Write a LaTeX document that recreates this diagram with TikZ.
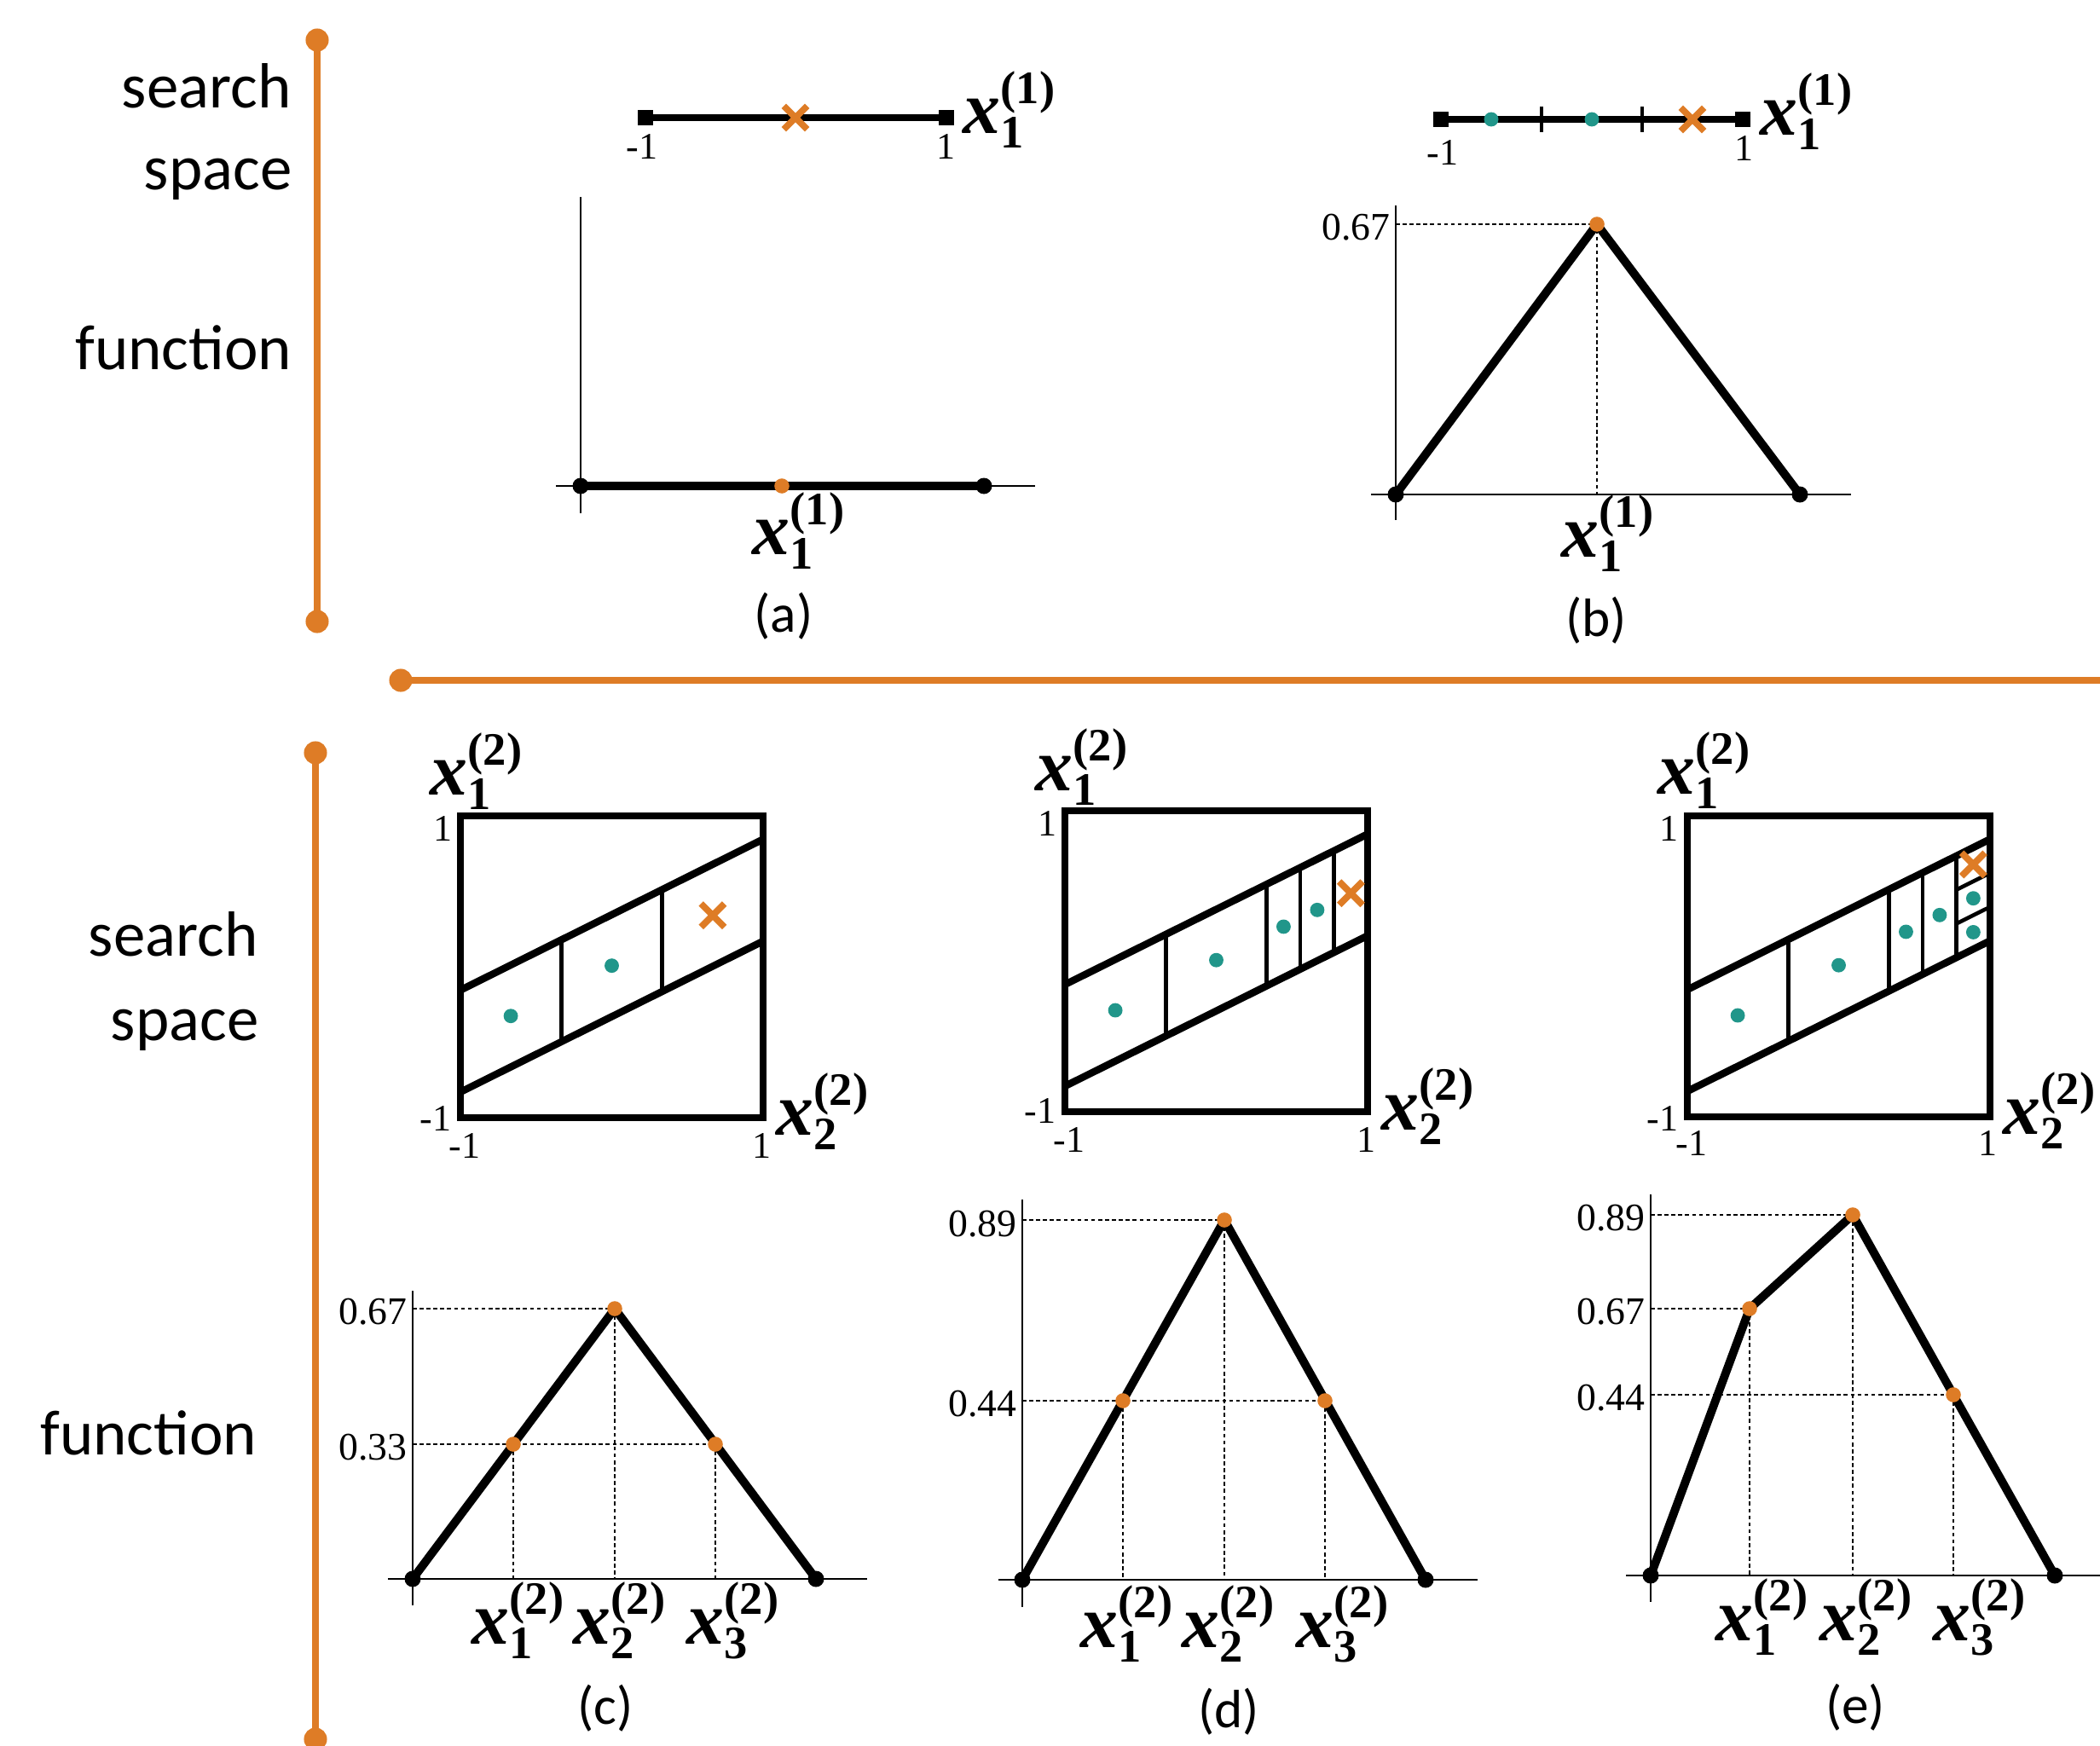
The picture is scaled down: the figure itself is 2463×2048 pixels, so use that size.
\documentclass[tikz,border=0pt]{standalone}
\usepackage{fontspec}
\setmainfont{Liberation Serif}
\newfontfamily\sansf{Carlito}
\usetikzlibrary{shapes.misc}
\definecolor{myorange}{RGB}{222,124,38}
\definecolor{myteal}{RGB}{33,150,138}
\newcommand\xlab[2]{{\fontsize{25}{25}\selectfont\bfseries\itshape x}{\fontsize{15.5}{15.5}\selectfont\bfseries\setbox0\hbox{(#2)}\setbox2\hbox{#1}\raisebox{9.7pt}{\copy0}\kern-\wd0\raisebox{-5pt}{\copy2}\kern-\wd2\kern\wd0}}
\begin{document}
\begin{tikzpicture}[x=0.01cm, y=-0.01cm,
 sepline/.style={myorange, line width=2.4pt},
 sepdot/.style={circle, fill=myorange, inner sep=0pt, minimum size=7.7pt},
 thickl/.style={line width=2.8pt, line join=round},
 axisl/.style={line width=0.7pt},
 guide/.style={line width=0.5pt, dash pattern=on 1.3pt off 1pt},
 bdot/.style={circle, fill=black, inner sep=0pt, minimum size=5.4pt},
 odot/.style={circle, fill=myorange, inner sep=0pt, minimum size=5pt},
 tdot/.style={circle, fill=myteal, inner sep=0pt, minimum size=4.8pt},
 xmk/.style={cross out, draw=myorange, line width=2.2pt, inner sep=0pt, minimum size=5.6pt},
 sqr/.style={rectangle, fill=black, inner sep=0pt, minimum size=5.1pt},
 seg/.style={line width=2.3pt},
 boxframe/.style={line width=2.4pt},
 band/.style={line width=2.4pt},
 divl/.style={line width=1.3pt},
 tickm/.style={line width=1.1pt},
 sanslbl/.style={font=\sansf\fontsize{21.3}{25}\selectfont, inner sep=0pt, anchor=base east},
 captxt/.style={font=\sansf\fontsize{18}{21}\selectfont, inner sep=0pt},
 num/.style={font=\fontsize{13}{15}\selectfont, inner sep=0pt},
 xl/.style={inner sep=0pt, anchor=base west}]
\useasboundingbox (0,0) rectangle (2463,2048);

% ---------- orange separators ----------
\coordinate (s1t) at (372,47); \coordinate (s1b) at (372,729);
\draw[sepline] (s1t) -- (s1b);
\node[sepdot] (d1t) at (s1t) {}; \node[sepdot] (d1b) at (s1b) {};
\coordinate (s2l) at (470,798); \coordinate (s2r) at (2480,798);
\draw[sepline] (s2l) -- (s2r);
\node[sepdot] (d2l) at (s2l) {};
\coordinate (s3t) at (370,883); \coordinate (s3b) at (370,2040);
\draw[sepline] (s3t) -- (s3b);
\node[sepdot] (d3t) at (s3t) {}; \node[sepdot] (d3b) at (s3b) {};

% ---------- row labels ----------
\node[sanslbl] (r1a) at (342,126) {search};
\node[sanslbl] (r1b) at (343,222) {space};
\node[sanslbl] (r1c) at (343,433) {function};
\node[sanslbl] (r2a) at (303,1121) {search};
\node[sanslbl] (r2b) at (304,1220) {space};
\node[sanslbl] (r2c) at (302,1706) {function};

% ---------- (a) ----------
\coordinate (a1L) at (757,138); \coordinate (a1R) at (1110,138);
\draw[seg] (a1L) -- (a1R);
\node[sqr] (a1sl) at (a1L) {}; \node[sqr] (a1sr) at (a1R) {};
\node[xmk] (a1x) at (933,138) {};
\node[num, font=\fontsize{12.5}{15}\selectfont] (a1m) at (753,172) {-1};
\node[num, font=\fontsize{12.5}{15}\selectfont] (a1p) at (1109,172) {1};
\node[xl] (a1lab) at (1129,156) {\xlab{1}{1}};

\coordinate (aVt) at (681,231); \coordinate (aVb) at (681,602);
\coordinate (aHl) at (652,570); \coordinate (aHr) at (1214,570);
\draw[axisl] (aVt) -- (aVb); \draw[axisl] (aHl) -- (aHr);
\coordinate (a0) at (681,570); \coordinate (a1) at (917,570); \coordinate (a2) at (1154,570);
\draw[thickl] (a0) -- (a1) -- (a2);
\node[bdot] (a0d) at (a0) {}; \node[odot] (a1d) at (a1) {}; \node[bdot] (a2d) at (a2) {};
\node[xl] (aLab) at (882,650) {\xlab{1}{1}};
\node[captxt] (capa) at (919,723) {(a)};

% ---------- (b) ----------
\coordinate (b1L) at (1690,140); \coordinate (b1R) at (2044,140);
\draw[seg] (b1L) -- (b1R);
\coordinate (bt1u) at (1808,125); \coordinate (bt1d) at (1808,155);
\coordinate (bt2u) at (1926,125); \coordinate (bt2d) at (1926,155);
\draw[tickm] (bt1u) -- (bt1d); \draw[tickm] (bt2u) -- (bt2d);
\node[sqr] (b1sl) at (b1L) {}; \node[sqr] (b1sr) at (b1R) {};
\node[tdot] (b1t1) at (1749,140) {}; \node[tdot] (b1t2) at (1867,140) {};
\node[xmk] (b1x) at (1985,140) {};
\node[num, font=\fontsize{12.5}{15}\selectfont] (b1m) at (1692,179) {-1};
\node[num, font=\fontsize{12.5}{15}\selectfont] (b1p) at (2045,174) {1};
\node[xl] (b1lab) at (2064,158) {\xlab{1}{1}};

\coordinate (bVt) at (1637,241); \coordinate (bVb) at (1637,610);
\coordinate (bHl) at (1608,580); \coordinate (bHr) at (2171,580);
\coordinate (b0) at (1637,580); \coordinate (b1) at (1873,263); \coordinate (b2) at (2111,580);
\coordinate (by1) at (1637,263); \coordinate (bf1) at (1873,580);
\draw[guide] (by1) -- (b1) -- (bf1);
\draw[axisl] (bVt) -- (bVb); \draw[axisl] (bHl) -- (bHr);
\draw[thickl] (b0) -- (b1) -- (b2);
\node[bdot] (b0d) at (b0) {}; \node[odot] (b1d) at (b1) {}; \node[bdot] (b2d) at (b2) {};
\node[num, anchor=east] (b67) at (1631,267) {0.67};
\node[xl] (bLab) at (1831,653) {\xlab{1}{1}};
\node[captxt] (capb) at (1872,728) {(b)};

% ---------- search-space boxes ----------
% (c)
\begin{scope}[shift={(717.5,1134)}, x=1.775cm, y=1.77cm]
 \coordinate (cBL) at (-1,-1); \coordinate (cTR) at (1,1);
 \draw[boxframe] (cBL) rectangle (cTR);
 \coordinate (cu0) at (-1,-0.155); \coordinate (cu1) at (1,0.845);
 \coordinate (cl0) at (-1,-0.83); \coordinate (cl1) at (1,0.17);
 \draw[band] (cu0) -- (cu1); \draw[band] (cl0) -- (cl1);
 \coordinate (cd1a) at (-0.3333,-0.4967); \coordinate (cd1b) at (-0.3333,0.1783);
 \coordinate (cd2a) at (0.3333,-0.1633); \coordinate (cd2b) at (0.3333,0.5117);
 \draw[divl] (cd1a) -- (cd1b); \draw[divl] (cd2a) -- (cd2b);
 \node[tdot] (cm1) at (-0.6667,-0.3258) {};
 \node[tdot] (cm2) at (0,0.0075) {};
 \node[xmk] (cmx) at (0.6667,0.3408) {};
\end{scope}
% (d)
\begin{scope}[shift={(1426.5,1127.5)}, x=1.775cm, y=1.765cm]
 \coordinate (dBL) at (-1,-1); \coordinate (dTR) at (1,1);
 \draw[boxframe] (dBL) rectangle (dTR);
 \coordinate (du0) at (-1,-0.155); \coordinate (du1) at (1,0.845);
 \coordinate (dl0) at (-1,-0.83); \coordinate (dl1) at (1,0.17);
 \draw[band] (du0) -- (du1); \draw[band] (dl0) -- (dl1);
 \coordinate (dd1a) at (-0.3333,-0.4967); \coordinate (dd1b) at (-0.3333,0.1783);
 \coordinate (dd2a) at (0.3333,-0.1633); \coordinate (dd2b) at (0.3333,0.5117);
 \coordinate (dd3a) at (0.5556,-0.0522); \coordinate (dd3b) at (0.5556,0.6228);
 \coordinate (dd4a) at (0.7778,0.0589); \coordinate (dd4b) at (0.7778,0.7339);
 \draw[divl] (dd1a) -- (dd1b); \draw[divl] (dd2a) -- (dd2b);
 \draw[divl] (dd3a) -- (dd3b); \draw[divl] (dd4a) -- (dd4b);
 \node[tdot] (dm1) at (-0.6667,-0.3258) {};
 \node[tdot] (dm2) at (0,0.0075) {};
 \node[tdot] (dm3) at (0.4444,0.2297) {};
 \node[tdot] (dm4) at (0.6667,0.3408) {};
 \node[xmk] (dmx) at (0.8889,0.4519) {};
\end{scope}
% (e)
\begin{scope}[shift={(2156.5,1133.5)}, x=1.775cm, y=1.765cm]
 \coordinate (eBL) at (-1,-1); \coordinate (eTR) at (1,1);
 \draw[boxframe] (eBL) rectangle (eTR);
 \coordinate (eu0) at (-1,-0.155); \coordinate (eu1) at (1,0.845);
 \coordinate (el0) at (-1,-0.83); \coordinate (el1) at (1,0.17);
 \draw[band] (eu0) -- (eu1); \draw[band] (el0) -- (el1);
 \coordinate (ed1a) at (-0.3333,-0.4967); \coordinate (ed1b) at (-0.3333,0.1783);
 \coordinate (ed2a) at (0.3333,-0.1633); \coordinate (ed2b) at (0.3333,0.5117);
 \coordinate (ed3a) at (0.5556,-0.0522); \coordinate (ed3b) at (0.5556,0.6228);
 \coordinate (ed4a) at (0.7778,0.0589); \coordinate (ed4b) at (0.7778,0.7339);
 \draw[divl] (ed1a) -- (ed1b); \draw[divl] (ed2a) -- (ed2b);
 \draw[divl] (ed3a) -- (ed3b); \draw[divl] (ed4a) -- (ed4b);
 \coordinate (eh1a) at (0.7778,0.2839); \coordinate (eh1b) at (1,0.395);
 \coordinate (eh2a) at (0.7778,0.5089); \coordinate (eh2b) at (1,0.62);
 \draw[divl] (eh1a) -- (eh1b); \draw[divl] (eh2a) -- (eh2b);
 \node[tdot] (em1) at (-0.6667,-0.3258) {};
 \node[tdot] (em2) at (0,0.0075) {};
 \node[tdot] (em3) at (0.4444,0.2297) {};
 \node[tdot] (em4) at (0.6667,0.3408) {};
 \node[tdot] (em5) at (0.8889,0.2269) {};
 \node[tdot] (em6) at (0.8889,0.4519) {};
 \node[xmk] (emx) at (0.8889,0.6769) {};
\end{scope}

% box labels (c): L=540 T=957 R=895 B=1311
\node[num, font=\fontsize{12.5}{15}\selectfont] (cl1t) at (519,972) {1};
\node[num, font=\fontsize{12.5}{15}\selectfont, anchor=east] (clm1) at (530,1312) {-1};
\node[num, font=\fontsize{12.5}{15}\selectfont] (cbm1) at (545,1344) {-1};
\node[num, font=\fontsize{12.5}{15}\selectfont] (cbp1) at (893,1344) {1};
\node[xl] (cx1) at (504,932) {\xlab{1}{2}};
\node[xl] (cx2) at (910,1331) {\xlab{2}{2}};
% box labels (d): L=1249 T=951 R=1604 B=1304
\node[num, font=\fontsize{12.5}{15}\selectfont] (dl1t) at (1228,966) {1};
\node[num, font=\fontsize{12.5}{15}\selectfont, anchor=east] (dlm1) at (1239,1303) {-1};
\node[num, font=\fontsize{12.5}{15}\selectfont] (dbm1) at (1254,1337) {-1};
\node[num, font=\fontsize{12.5}{15}\selectfont] (dbp1) at (1602,1337) {1};
\node[xl] (dx1) at (1214,927) {\xlab{1}{2}};
\node[xl] (dx2) at (1620,1325) {\xlab{2}{2}};
% box labels (e): L=1979 T=957 R=2334 B=1310
\node[num, font=\fontsize{12.5}{15}\selectfont] (el1t) at (1957,972) {1};
\node[num, font=\fontsize{12.5}{15}\selectfont, anchor=east] (elm1) at (1969,1312) {-1};
\node[num, font=\fontsize{12.5}{15}\selectfont] (ebm1) at (1984,1341) {-1};
\node[num, font=\fontsize{12.5}{15}\selectfont] (ebp1) at (2331,1341) {1};
\node[xl] (ex1) at (1944,931) {\xlab{1}{2}};
\node[xl] (ex2) at (2349,1330) {\xlab{2}{2}};

% ---------- (c) function ----------
\coordinate (cVt) at (484,1514); \coordinate (cVb) at (484,1883);
\coordinate (cHl) at (455,1852); \coordinate (cHr) at (1017,1852);
\coordinate (c0) at (484,1852); \coordinate (c1) at (602,1694); \coordinate (c2) at (721,1535);
\coordinate (c3) at (839,1694); \coordinate (c4) at (957,1852);
\coordinate (cy67) at (484,1535); \coordinate (cy33) at (484,1694);
\coordinate (cf1) at (602,1852); \coordinate (cf2) at (721,1852); \coordinate (cf3) at (839,1852);
\draw[guide] (cy67) -- (c2); \draw[guide] (cy33) -- (c3);
\draw[guide] (c1) -- (cf1); \draw[guide] (c2) -- (cf2); \draw[guide] (c3) -- (cf3);
\draw[axisl] (cVt) -- (cVb); \draw[axisl] (cHl) -- (cHr);
\draw[thickl] (c0) -- (c2) -- (c4);
\node[bdot] (c0d) at (c0) {}; \node[bdot] (c4d) at (c4) {};
\node[odot] (c1d) at (c1) {}; \node[odot] (c2d) at (c2) {}; \node[odot] (c3d) at (c3) {};
\node[num, anchor=east] (c67) at (478,1539) {0.67};
\node[num, anchor=east] (c33) at (478,1698) {0.33};
\node[xl] (cxa) at (553,1928) {\xlab{1}{2}};
\node[xl] (cxb) at (672,1928) {\xlab{2}{2}};
\node[xl] (cxc) at (805,1928) {\xlab{3}{2}};
\node[captxt] (capc) at (710,2004) {(c)};

% ---------- (d) function ----------
\coordinate (dVt) at (1199,1407); \coordinate (dVb) at (1199,1885);
\coordinate (dHl) at (1171,1853); \coordinate (dHr) at (1733,1853);
\coordinate (e0x) at (0,0);
\coordinate (d0) at (1199,1853); \coordinate (d1) at (1317,1643); \coordinate (d2) at (1436,1431);
\coordinate (d3) at (1554,1643); \coordinate (d4) at (1672,1853);
\coordinate (dy89) at (1199,1431); \coordinate (dy44) at (1199,1643);
\coordinate (df1) at (1317,1853); \coordinate (df2) at (1436,1853); \coordinate (df3) at (1554,1853);
\draw[guide] (dy89) -- (d2); \draw[guide] (dy44) -- (d3);
\draw[guide] (d1) -- (df1); \draw[guide] (d2) -- (df2); \draw[guide] (d3) -- (df3);
\draw[axisl] (dVt) -- (dVb); \draw[axisl] (dHl) -- (dHr);
\draw[thickl] (d0) -- (d2) -- (d4);
\node[bdot] (d0d) at (d0) {}; \node[bdot] (d4d) at (d4) {};
\node[odot] (d1d) at (d1) {}; \node[odot] (d2d) at (d2) {}; \node[odot] (d3d) at (d3) {};
\node[num, anchor=east] (d89) at (1193,1436) {0.89};
\node[num, anchor=east] (d44) at (1193,1647) {0.44};
\node[xl] (dxa) at (1267,1932) {\xlab{1}{2}};
\node[xl] (dxb) at (1386,1932) {\xlab{2}{2}};
\node[xl] (dxc) at (1520,1932) {\xlab{3}{2}};
\node[captxt] (capd) at (1441,2008) {(d)};

% ---------- (e) function ----------
\coordinate (eVt) at (1936,1401); \coordinate (eVb) at (1936,1879);
\coordinate (eHl) at (1907,1848); \coordinate (eHr) at (2480,1848);
\coordinate (e0) at (1936,1848); \coordinate (e1) at (2052,1535); \coordinate (e2) at (2173,1425);
\coordinate (e3) at (2291,1636); \coordinate (e4) at (2410,1848);
\coordinate (ey89) at (1936,1425); \coordinate (ey67) at (1936,1535); \coordinate (ey44) at (1936,1636);
\coordinate (ef1) at (2052,1848); \coordinate (ef2) at (2173,1848); \coordinate (ef3) at (2291,1848);
\draw[guide] (ey89) -- (e2); \draw[guide] (ey67) -- (e1); \draw[guide] (ey44) -- (e3);
\draw[guide] (e1) -- (ef1); \draw[guide] (e2) -- (ef2); \draw[guide] (e3) -- (ef3);
\draw[axisl] (eVt) -- (eVb); \draw[axisl] (eHl) -- (eHr);
\draw[thickl] (e0) -- (e1) -- (e2) -- (e3) -- (e4);
\node[bdot] (e0d) at (e0) {}; \node[bdot] (e4d) at (e4) {};
\node[odot] (e1d) at (e1) {}; \node[odot] (e2d) at (e2) {}; \node[odot] (e3d) at (e3) {};
\node[num, anchor=east] (e89) at (1930,1429) {0.89};
\node[num, anchor=east] (e67) at (1930,1539) {0.67};
\node[num, anchor=east] (e44) at (1930,1640) {0.44};
\node[xl] (exa) at (2012,1924) {\xlab{1}{2}};
\node[xl] (exb) at (2134,1924) {\xlab{2}{2}};
\node[xl] (exc) at (2267,1924) {\xlab{3}{2}};
\node[captxt] (cape) at (2176,2003) {(e)};
\end{tikzpicture}
\end{document}
